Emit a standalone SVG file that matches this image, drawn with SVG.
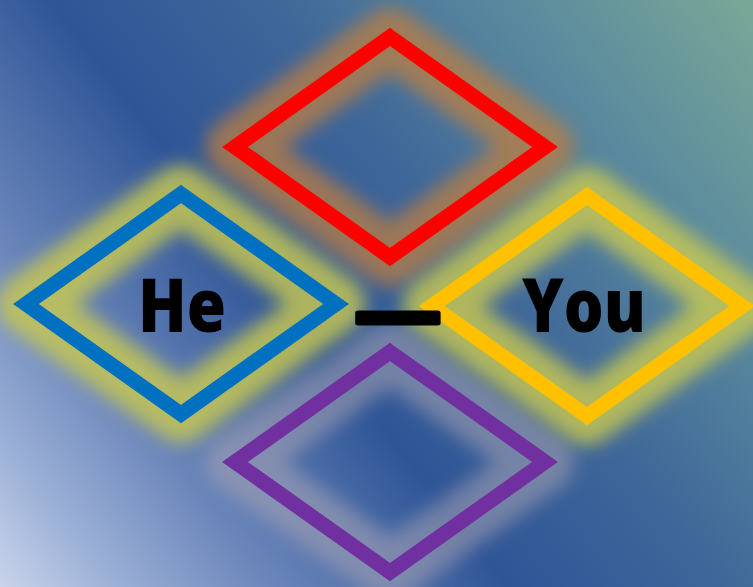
<svg xmlns="http://www.w3.org/2000/svg" width="753" height="587" viewBox="0 0 753 587">
  <defs>
    <linearGradient id="bg" gradientUnits="userSpaceOnUse" x1="0" y1="587" x2="753" y2="0">
      <stop offset="0" stop-color="#c9d4ea"/>
      <stop offset="0.1" stop-color="#9aafd6"/>
      <stop offset="0.22" stop-color="#6c87bb"/>
      <stop offset="0.42" stop-color="#2f5597"/>
      <stop offset="0.6" stop-color="#3f6799"/>
      <stop offset="0.8" stop-color="#5b8a9e"/>
      <stop offset="1" stop-color="#7aa897"/>
    </linearGradient>
    <filter id="blur" x="-30%" y="-30%" width="160%" height="160%">
      <feGaussianBlur stdDeviation="9"/>
    </filter>
  </defs>
  <style>
    .glow { fill: none; stroke-width: 58; stroke-linejoin: round; filter: url(#blur); }
    .edge { fill: none; stroke-width: 15; stroke-linejoin: miter; }
    .label { font-family: "Open Sans", "Liberation Sans", sans-serif; font-weight: 800; font-size: 74px; fill: #000; }
  </style>
  <rect x="0" y="0" width="753" height="587" fill="url(#bg)"/>

  <g id="node-top">
    <polygon class="glow" points="390,37 545,147 390,257 235,147" stroke="#c08040" stroke-opacity="0.72"/>
    <polygon class="edge" points="390,37 545,147 390,257 235,147" stroke="#ff0000"/>
  </g>
  <g id="node-bottom">
    <polygon class="glow" points="390,352 545,462 390,572 235,462" stroke="#b4aab4" stroke-opacity="0.5"/>
    <polygon class="edge" points="390,352 545,462 390,572 235,462" stroke="#7030a0"/>
  </g>
  <g id="node-he">
    <polygon class="glow" points="181,194 336,304 181,414 26,304" stroke="#c8c850" stroke-opacity="0.82"/>
    <polygon class="edge" points="181,194 336,304 181,414 26,304" stroke="#0070c0"/>
    <text class="label" x="138" y="332" textLength="88" lengthAdjust="spacingAndGlyphs">He</text>
  </g>
  <g id="node-you">
    <polygon class="glow" points="587,196 742,306 587,416 432,306" stroke="#c8c850" stroke-opacity="0.82"/>
    <polygon class="edge" points="587,196 742,306 587,416 432,306" stroke="#ffc000"/>
    <text class="label" x="522" y="332" textLength="124" lengthAdjust="spacingAndGlyphs">You</text>
  </g>
  <g id="connectors">
    <text class="label" x="355" y="338" textLength="86" lengthAdjust="spacingAndGlyphs" stroke="#000" stroke-width="5" stroke-linejoin="round">—</text>
  </g>
</svg>
